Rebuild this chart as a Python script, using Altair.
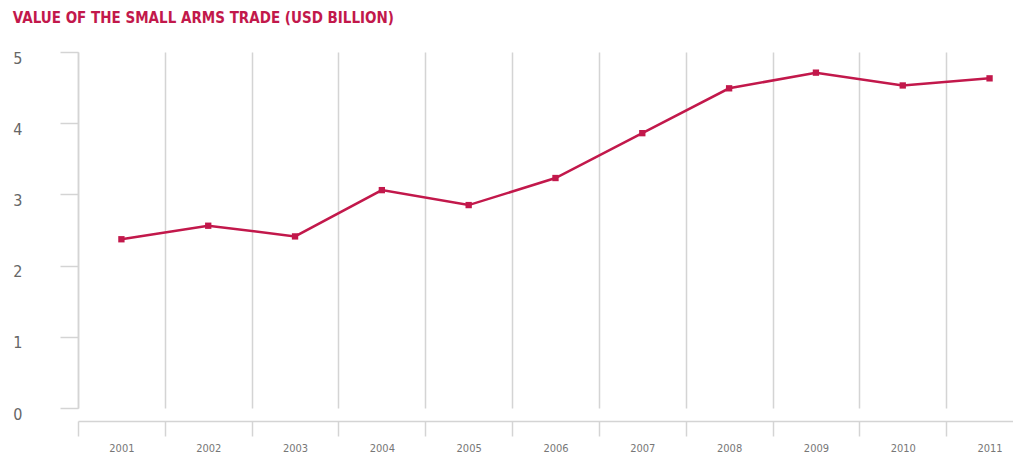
import altair as alt
import pandas as pd

years = [2001, 2002, 2003, 2004, 2005, 2006, 2007, 2008, 2009, 2010, 2011]
values = [2.37, 2.56, 2.41, 3.06, 2.85, 3.23, 3.86, 4.49, 4.71, 4.53, 4.63]
y_ticks = [0, 1, 2, 3, 4, 5]
boundaries = [y - 0.5 for y in years]

df = pd.DataFrame({"year": years, "value": values})

RED = "#c2184b"
GRID = "#d4d4d4"
FONT = "DejaVu Sans Condensed"

xscale = alt.Scale(domain=[2000.5, 2011.27], nice=False, zero=False)
yscale = alt.Scale(domain=[0, 5], nice=False)

y_axis = alt.Axis(values=y_ticks, grid=False,
                  domainColor=GRID, domainWidth=1.5,
                  tickColor=GRID, tickWidth=1.5, tickSize=18,
                  labelPadding=38, labelFontSize=16, labelColor="#666",
                  labelFont=FONT, labelOffset=6)

base = alt.Chart(df)

line = base.mark_line(color=RED, strokeWidth=2.5).encode(
    x=alt.X("year:Q", scale=xscale, title=None,
            axis=alt.Axis(values=boundaries, labels=False, grid=True,
                          gridColor=GRID, gridWidth=1.5,
                          domainColor=GRID, domainWidth=1.5,
                          tickColor=GRID, tickWidth=1.5, tickSize=15,
                          offset=13, orient="bottom")),
    y=alt.Y("value:Q", scale=yscale, title=None, axis=y_axis),
)

points = base.mark_square(color=RED, size=40, opacity=1).encode(
    x=alt.X("year:Q", scale=xscale, title=None,
            axis=alt.Axis(values=years, format="d", ticks=False, domain=False,
                          grid=False, offset=13, labelPadding=21,
                          labelFontSize=11, labelColor="#777", labelFont=FONT,
                          labelOverlap=False, labelFlush=False, orient="bottom")),
    y=alt.Y("value:Q", scale=yscale, title=None, axis=y_axis),
)

chart = alt.layer(line, points).resolve_axis(x="independent").properties(
    width=935,
    height=356,
    autosize=alt.AutoSizeParams(type="none"),
    padding={"left": 70, "top": 44, "right": 0, "bottom": 45},
    title=alt.TitleParams(
        "VALUE OF THE SMALL ARMS TRADE (USD BILLION)",
        anchor="start", frame="bounds", fontSize=15, fontWeight="bold",
        font="DejaVu Sans Condensed", color=RED, offset=24,
    ),
).configure_view(stroke=None)

chart.save("out.html", embed_options={"renderer": "svg", "actions": False})
